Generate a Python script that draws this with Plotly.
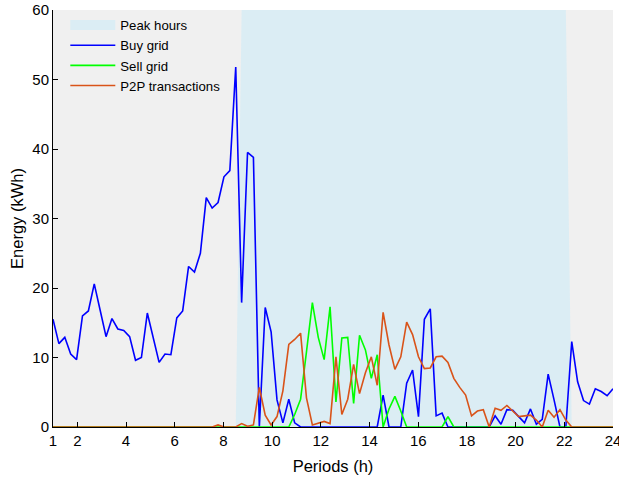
import numpy as np
import plotly.graph_objects as go

periods = np.linspace(1, 24, 96)

buy_grid = [15.5, 12.0, 12.9, 10.5, 9.7, 16.0, 16.7, 20.6, 16.8, 13.0,
            15.6, 14.1, 13.9, 13.0, 9.6, 10.0, 16.4, 12.9, 9.3, 10.5,
            10.4, 15.7, 16.7, 23.1, 22.3, 25.0, 33.0, 31.5, 32.3, 36.0,
            36.9, 51.8, 17.9, 39.5, 38.8, 0.0, 17.2, 13.7, 3.9, 0.6,
            4.0, 0.6, 0.0, 0.0, 0.0, 0.0, 0.0, 0.0, 0.0, 0.0,
            0.0, 0.0, 0.0, 0.0, 0.0, 0.0, 4.6, 0.0, 0.0, 0.0,
            6.3, 8.2, 1.5, 15.5, 17.0, 1.6, 2.0, 0.0, 0.0, 0.0,
            0.0, 0.0, 0.0, 0.0, 0.0, 1.6, 0.4, 2.5, 2.4, 1.5,
            0.6, 2.6, 0.4, 1.1, 7.6, 3.9, 0.0, 0.0, 12.3, 6.5,
            3.8, 3.3, 5.5, 5.1, 4.5, 5.5]

sell_grid = [0.0] * 40 + [0.0, 1.8, 4.0, 10.8, 17.9, 12.9, 9.7, 17.3, 3.6, 12.8,
                          12.9, 3.4, 13.2, 11.1, 7.0, 10.4, 0.0, 2.6, 4.4, 2.3,
                          0.0, 0.0, 0.0, 0.0, 0.0, 0.0, 0.0, 1.5] + [0.0] * 28

p2p = [0.0] * 28 + [0.3, 0.0, 0.0, 0.0, 0.5, 0.1, 0.3, 5.7, 1.7, 0.3,
                    1.5, 5.2, 11.9, 12.6, 13.5, 4.2, 0.3, 0.5, 0.8, 0.5,
                    10.1, 1.8, 4.0, 9.0, 4.8, 7.8, 10.1, 6.0, 16.5, 11.8,
                    8.3, 10.1, 15.1, 13.3, 10.1, 8.4, 8.5, 10.1, 10.2, 9.3,
                    7.0, 5.7, 4.6, 1.6, 2.3, 2.5, 0.0, 2.7, 2.4, 3.1,
                    2.3, 1.5, 1.6, 1.7, 1.0, 0.0, 2.4, 1.4, 2.5, 1.0] + [0.0] * 8

peak_hours = [0] * 32 + [60] * 56 + [0] * 8

x_ticks = [1, 2, 4, 6, 8, 10, 12, 14, 16, 18, 20, 22, 24]
y_ticks = [0, 10, 20, 30, 40, 50, 60]

PEAK_COLOR = "#dbedf4"
FONT = "Liberation Sans, Arial, sans-serif"

fig = go.Figure()
fig.add_trace(go.Scatter(x=periods, y=peak_hours, mode="lines", fill="tozeroy",
                         fillcolor=PEAK_COLOR, line=dict(width=0, color=PEAK_COLOR),
                         showlegend=False, hoverinfo="skip"))
fig.add_trace(go.Scatter(x=[None], y=[None], mode="lines", name="Peak hours",
                         line=dict(width=15, color=PEAK_COLOR)))
fig.add_trace(go.Scatter(x=periods, y=buy_grid, mode="lines", name="Buy grid",
                         line=dict(width=1.6, color="#0000ff")))
fig.add_trace(go.Scatter(x=periods, y=sell_grid, mode="lines", name="Sell grid",
                         line=dict(width=1.6, color="#00ff00")))
fig.add_trace(go.Scatter(x=periods, y=p2p, mode="lines", name="P2P transactions",
                         line=dict(width=1.6, color="#d95319")))

fig.update_layout(
    width=619, height=479,
    margin=dict(l=53, r=6, t=10, b=52, autoexpand=False),
    paper_bgcolor="white", plot_bgcolor="#f0f0f0",
    font=dict(family=FONT, size=15, color="black"),
    legend=dict(x=0.022, y=1.0, xanchor="left", yanchor="top",
                bgcolor="rgba(0,0,0,0)", borderwidth=0, itemwidth=45,
                font=dict(size=13.2)),
    xaxis=dict(range=[1, 24], tickvals=x_ticks, ticktext=[str(t) for t in x_ticks],
               showline=True, linecolor="black", linewidth=1, ticks="inside",
               ticklen=5, tickcolor="black", showgrid=False, zeroline=False,
               automargin=False, tickfont=dict(size=15), ticklabeloverflow="allow",
               title=dict(text="Periods (h)", font=dict(size=16.5), standoff=12)),
    yaxis=dict(range=[0, 60], tickvals=y_ticks, showline=True, linecolor="black",
               linewidth=1, ticks="inside", ticklen=5, tickcolor="black",
               showgrid=False, zeroline=False, automargin=False,
               tickfont=dict(size=15), ticklabeloverflow="allow",
               title=dict(text="Energy (kWh)", font=dict(size=16.5), standoff=4)),
)

fig.write_html("out.html", config={"displayModeBar": False},
               post_script="document.body.style.margin='0';")
